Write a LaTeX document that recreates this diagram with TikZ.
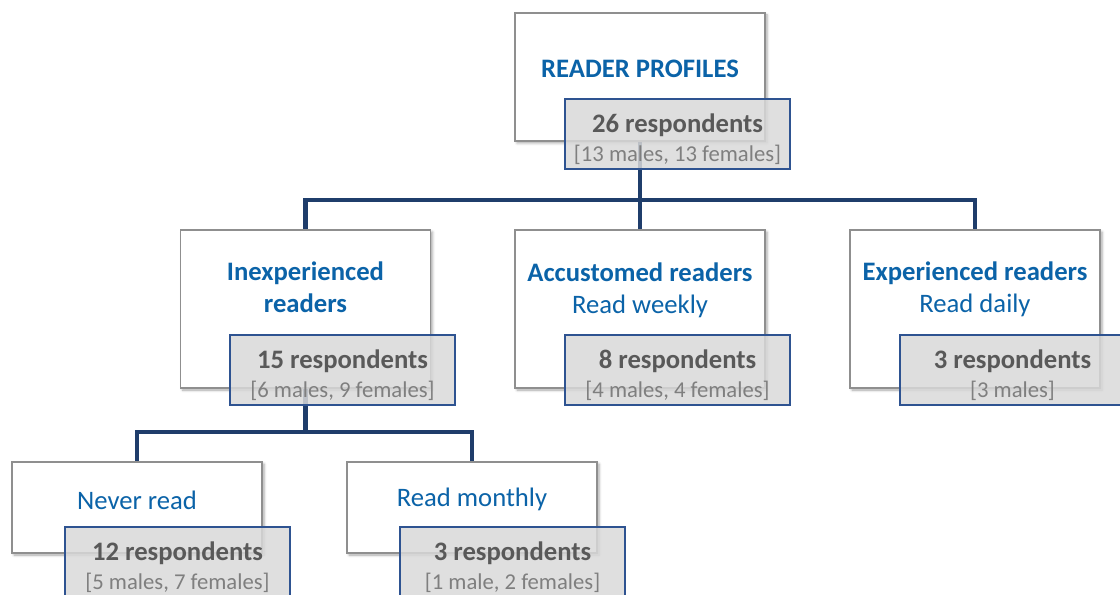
\documentclass[tikz,border=0pt]{standalone}
\usepackage{fontspec}
\setmainfont{Carlito}
\usetikzlibrary{shadows.blur,backgrounds}

\definecolor{navy}{HTML}{1F3D6B}
\definecolor{edgeblue}{HTML}{2E5391}
\definecolor{titleblue}{HTML}{0B63A8}
\definecolor{boxgray}{HTML}{8F8F8F}
\definecolor{panel}{HTML}{D9D9D9}
\definecolor{numgray}{HTML}{595959}
\definecolor{subgray}{HTML}{7F7F7F}

% bold number on top, split by sex below (the strut pushes both lines down a bit)
\newcommand\tally[2]{\rule{0pt}{22pt}{\bfseries\color{numgray}#1}\\{\fontsize{17}{21.5}\selectfont\color{subgray}#2}}

\tikzset{
  box/.style={draw=boxgray, line width=0.8pt, fill=white, minimum width=187.5pt,
    blur shadow={shadow xshift=1.5pt, shadow yshift=-1.5pt, shadow blur steps=4, shadow opacity=35}},
  head/.style={align=center, text=titleblue, font=\fontsize{20}{24}\selectfont\bfseries},
  group/.style={draw=edgeblue, line width=1.5pt, fill=panel, fill opacity=0.85, text opacity=1,
    minimum width=168.75pt, minimum height=52pt, align=center, inner sep=0pt,
    font=\fontsize{20}{21.5}\selectfont},
  link/.style={draw=navy, line width=3.4pt},
}

\begin{document}
\begin{tikzpicture}[x=0.75pt, y=-0.75pt]
\useasboundingbox (0,0) rectangle (1120,595);

% top of the tree
\node[box, minimum height=96pt] (root) at (640,77) {};
\node[head] (rootname) at (640,69) {READER PROFILES};
\node[group] (rootn) at (677.5,134) {\tally{26 respondents}{[13 males, 13 females]}};

% reading habits
\node[box, minimum height=118.5pt] (inexp) at (305.5,309) {};
\node[head] (inexpname) at (305.5,287) {Inexperienced\\readers};
\node[group] (inexpn) at (342.5,370) {\tally{15 respondents}{[6 males, 9 females]}};

\node[box, minimum height=118.5pt] (accust) at (640,309) {};
\node[head] (accustname) at (640,290) {Accustomed readers\\\mdseries Read weekly};
\node[group] (accustn) at (677.5,370) {\tally{8 respondents}{[4 males, 4 females]}};

\node[box, minimum height=118.5pt] (exper) at (975,309) {};
\node[head] (expername) at (975,289) {Experienced readers\\\mdseries Read daily};
\node[group] (expern) at (1012.5,370) {\tally{3 respondents}{[3 males]}};

% split of the inexperienced group
\node[box, minimum height=68.25pt] (never) at (137,507.5) {};
\node[head, font=\fontsize{20}{24}\selectfont] (nevername) at (137,500) {Never read};
\node[group] (nevern) at (177.5,562) {\tally{12 respondents}{[5 males, 7 females]}};

\node[box, minimum height=68.25pt] (monthly) at (472,507.5) {};
\node[head, font=\fontsize{20}{24}\selectfont] (monthlyname) at (472,499) {Read monthly};
\node[group] (monthlyn) at (512.5,562) {\tally{3 respondents}{[1 male, 2 females]}};

\coordinate (bus) at (640,200);
\coordinate (bus2) at (305.5,432);

\begin{scope}[on background layer]
\draw[link] (root.center) -- (accust.north);
\draw[link] (inexp.north) -- (inexp.north |- bus) -- (exper.north |- bus) -- (exper.north);
\draw[link] (inexp.center) -- (bus2);
\draw[link] (never.north) -- (never.north |- bus2) -- (monthly.north |- bus2) -- (monthly.north);
\end{scope}

\end{tikzpicture}
\end{document}
